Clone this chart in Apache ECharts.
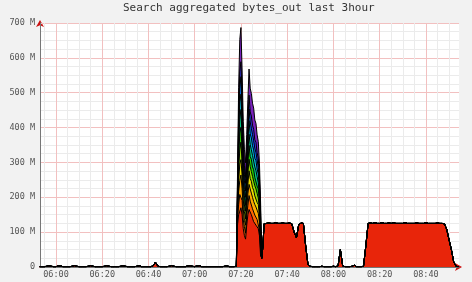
<!DOCTYPE html>
<html><head><meta charset="utf-8">
<script src="https://cdn.jsdelivr.net/npm/echarts@6/dist/echarts.min.js"></script>
<style>html,body{margin:0;padding:0;background:#f2f2f2}#c{width:472px;height:282px}</style>
</head><body><div id="c"></div>
<script>
const chartTitle = 'Search aggregated bytes_out last 3hour';
const yTicks = [0, 100, 200, 300, 400, 500, 600, 700];
const xTickLabels = ['06:00','06:20','06:40','07:00','07:20','07:40','08:00','08:20','08:40'];
const xStartMinute = 353.1, xEndMinute = 534.3;

// bottom host (red), [minute of day, MB/s out]
const hostBase = [
[353,1],[354,1],[355,1],[356,2],[357,4],[358,2],[359,1],[360,1],[361,3],[362,3],[363,1],[364,1],[365,1],[366,1],[367,2],[368,4],[369,2],[370,1],[371,1],[372,1],[373,1],[374,2],[375,4],[376,2],[377,1],[378,1],[379,1],[380,1],[381,2],[382,4],[383,2],[384,1],[385,1],[386,1],[387,1],[388,2],[389,4],[390,2],[391,1],[392,1],[393,1],[394,1],[395,2],[396,4],[397,1],[398,1],[399,1],[400,1],[401,1],[402,3],[403,14],[404,3],[405,1],[406,1],[407,1],[408,1],[409,2],[410,4],[411,2],[412,1],[413,1],[414,1],[415,1],[416,1],[417,3],[418,4],[419,2],[420,1],[421,3],[422,4],[423,1],[424,1],[425,1],[426,1],[427,1],[428,1],[429,1],[430,1],[431,1],[432,1],[433,2],[434,3],[435,1],[436,1],[437,1],
[438,2],[438.5,120],[439,150],[439.5,160],[440,170],[440.5,150],[441,110],[441.5,90],[442,80],[442.5,120],[443,150],[443.5,165],[444,160],[444.5,150],[445,140],[445.5,130],[446,125],[446.5,120],[447,115],[447.5,110],[448,90],[448.5,30],[449,25],
[449.5,60],[450,124],[451,125],[452,126],[453,125],[454,125],[455,127],[456,125],[457,125],[458,126],[459,125],[460,125],[461,126],[462,124],[463,100],[464,84],[465,122],[466,126],[467,125],[468,60],[469,6],
[470,2],[471,1],[472,1],[473,1],[474,1],[475,2],[476,1],[477,1],[478,1],[479,1],[480,2],[481,1],[482,3],[483,50],[484,3],[485,1],[486,1],[487,1],[488,2],[489,5],[490,1],[491,1],[492,1],[493,2],[494,60],[495,125],
[496,126],[497,125],[498,127],[499,125],[500,125],[501,127],[502,125],[503,125],[504,126],[505,125],[506,127],[507,125],[508,125],[509,125],[510,125],[511,127],[512,125],[513,125],[514,125],[515,125],[516,126],[517,125],[518,125],[519,125],[520,127],[521,125],[522,125],[523,125],[524,125],[525,126],[526,125],[527,125],
[528,124],[529,108],[530,78],[531,50],[532,15],[533,2],[534,1]
];

// other hosts only active during the burst
const spikeTimes = [438,438.5,439,439.5,440,440.5,441,441.5,442,442.5,443,443.5,444,444.5,445,445.5,446,446.5,447,447.5,448,448.5,449];
const host01 = [0,15,30,48,43,41,25,26,17,27,27,40,29,35,27,33,24,30,21,26,16,17,0];
const host02 = [0,9,36,40,51,33,31,18,23,19,33,32,35,27,33,25,30,22,27,18,22,10,0];
const host03 = [0,14,31,47,44,40,26,25,18,26,28,39,30,34,28,32,25,29,22,25,17,16,0];
const host04 = [0,10,35,41,50,34,30,19,22,20,32,33,34,28,32,26,29,23,26,19,21,11,0];
const host05 = [0,15,30,48,43,41,25,26,17,27,27,40,29,35,27,33,24,30,21,26,16,17,0];
const host06 = [0,9,36,40,51,33,31,18,23,19,33,32,35,27,33,25,30,22,27,18,22,10,0];
const host07 = [0,14,31,47,44,40,26,25,18,26,28,39,30,34,28,32,25,29,22,25,17,16,0];
const host08 = [0,10,35,41,50,34,30,19,22,20,32,33,34,28,32,26,29,23,26,19,21,11,0];
const host09 = [0,15,30,48,43,41,25,26,17,27,27,40,29,35,27,33,24,30,21,26,16,17,0];
const host10 = [0,25,70,93,98,78,59,46,42,49,63,75,68,65,63,61,57,54,51,48,40,28,0];

const baseColor = '#e8250a';
const hostColors = ['#ff6600','#ffaa00','#eedd00','#99dd00','#22cc00','#00cc88','#00bbdd','#0077ff','#3333ee','#7722bb'];
const spikeHosts = [host01,host02,host03,host04,host05,host06,host07,host08,host09,host10];

const times = hostBase.map(p => p[0]);
function fmtMin(v){const h=Math.floor(v/60), m=Math.round(v-h*60);return (h<10?'0':'')+h+':'+(m<10?'0':'')+m;}

// cumulative stacking done here; layers drawn top-first so lower ones paint over
const layers = [{vals: hostBase.map(p => p[1]), color: baseColor, w: 1}];
spikeHosts.forEach((arr, i) => {
  layers.push({vals: times.map(t => { const k = spikeTimes.indexOf(t); return k >= 0 ? arr[k] : 0; }), color: hostColors[i], w: 1});
});
let run = times.map(() => 0);
layers.forEach(L => { run = run.map((s, j) => s + L.vals[j]); L.cum = run.slice(); });

const series = [];
for (let i = layers.length - 1; i >= 0; i--) {
  const L = layers[i];
  series.push({
    type:'line', symbol:'none', silent:true, z:2,
    data: times.map((t, j) => [t, L.cum[j]]),
    lineStyle:{color:'#000', width:L.w}, areaStyle:{color:L.color, opacity:1, origin:'start'}
  });
}

const mono = 'DejaVu Sans Mono';
const majorCol = '#f2c0c0', minorCol = '#ebebeb';
const option = {
  backgroundColor:'#f2f2f2', animation:false,
  title:{text:chartTitle, left:123, top:3, padding:0,
    textStyle:{fontFamily:mono, fontSize:11, fontWeight:'normal', color:'#333'}},
  grid:{left:40, right:13, top:23, bottom:15, show:true, backgroundColor:'#fff', borderWidth:0},
  xAxis:[{
    type:'value', min:xStartMinute, max:xEndMinute, minInterval:20, maxInterval:20, z:2,
    axisLine:{show:true, onZero:false, lineStyle:{color:'#777', width:1}},
    axisTick:{show:false},
    axisLabel:{show:true, margin:3, fontFamily:mono, fontSize:8.5, color:'#555',
      formatter:v => { const s = fmtMin(v); return (Math.abs(v % 20) < 1e-6 && xTickLabels.indexOf(s) >= 0) ? s : ''; }},
    splitLine:{show:true, showMinLine:false, showMaxLine:false, lineStyle:{color:majorCol, width:1}},
    minorTick:{show:false, splitNumber:4},
    minorSplitLine:{show:true, lineStyle:{color:minorCol, width:1}}
  },{
    type:'value', min:xStartMinute, max:xEndMinute, position:'bottom', z:1,
    axisLine:{show:true, onZero:false, symbol:['none','arrow'], symbolSize:[6,7], symbolOffset:[0,3], lineStyle:{color:'#cc1111', width:1}},
    axisTick:{show:false}, axisLabel:{show:false}, splitLine:{show:false}
  }],
  yAxis:[{
    type:'value', min:0, max:700, interval:100, z:2,
    axisLine:{show:true, onZero:false, lineStyle:{color:'#777', width:1}},
    axisTick:{show:false},
    axisLabel:{margin:5, fontFamily:mono, fontSize:8.5, color:'#555',
      formatter:v => yTicks.indexOf(v) < 0 ? '' : (v === 0 ? '0' : v + ' M')},
    splitLine:{show:true, lineStyle:{color:majorCol, width:1}},
    minorTick:{show:false, splitNumber:4},
    minorSplitLine:{show:true, lineStyle:{color:minorCol, width:1}}
  },{
    type:'value', min:0, max:700, position:'left', z:1,
    axisLine:{show:true, onZero:false, symbol:['none','arrow'], symbolSize:[6,7], symbolOffset:[0,3], lineStyle:{color:'#cc1111', width:1}},
    axisTick:{show:false}, axisLabel:{show:false}, splitLine:{show:false}
  }],
  series: series
};
const chart = echarts.init(document.getElementById('c'), null, {renderer:'canvas'});
chart.setOption(option);
</script></body></html>
